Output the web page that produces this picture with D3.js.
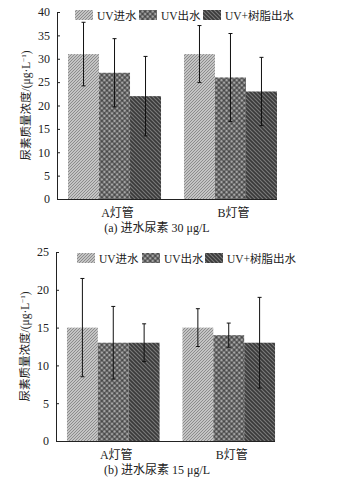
<!DOCTYPE html>
<html>
<head>
<meta charset="utf-8">
<script src="https://cdn.jsdelivr.net/npm/d3@7/dist/d3.min.js"></script>
<style>
  html, body { margin: 0; padding: 0; background: #fff; }
  svg { display: block; }
  text { font-family: "Liberation Serif", "Noto Sans CJK SC", serif; fill: #222; }
</style>
</head>
<body>
<svg id="chart" width="349" height="486"></svg>
<script>
// Lamp groups and water-sample series
const groups = ["A灯管", "B灯管"];
const series = ["UV进水", "UV出水", "UV+树脂出水"];

// Panel (a): influent urea 30 μg/L — means and error (±) per group, per series
const meansHigh = [[31, 27, 22], [31, 26, 23]];
const errorsHigh = [[6.8, 7.3, 8.5], [6.1, 9.4, 7.3]];
const ticksHigh = [0, 5, 10, 15, 20, 25, 30, 35, 40];

// Panel (b): influent urea 15 μg/L
const meansLow = [[15, 13, 13], [15, 14, 13]];
const errorsLow = [[6.5, 4.8, 2.5], [2.5, 1.6, 6.0]];
const ticksLow = [0, 5, 10, 15, 20, 25];

const captions = ["(a)  进水尿素 30 μg/L", "(b)  进水尿素 15 μg/L"];

const svg = d3.select("#chart");
const defs = svg.append("defs");

// Fill patterns for the three series
function hatch(id, bg, fg, size, dir, w) {
  const p = defs.append("pattern").attr("id", id).attr("patternUnits", "userSpaceOnUse")
    .attr("width", size).attr("height", size);
  p.append("rect").attr("width", size).attr("height", size).attr("fill", bg);
  const d = dir > 0
    ? `M0,${size} L${size},0 M${-size},${size} L${size},${-size} M0,${2*size} L${2*size},0`
    : `M0,0 L${size},${size} M${-size},0 L${size},${2*size} M0,${-size} L${2*size},${size}`;
  p.append("path").attr("d", d).attr("stroke", fg).attr("stroke-width", w);
}
hatch("pat0", "#c4c4c4", "#8c8c8c", 3, 1, 1);
hatch("pat2", "#3a3a3a", "#7a7a7a", 4, -1, 1.1);
{
  // diagonal checker for the middle series
  const p = defs.append("pattern").attr("id", "pat1").attr("patternUnits", "userSpaceOnUse")
    .attr("width", 3.6).attr("height", 3.6).attr("patternTransform", "rotate(45)");
  p.append("rect").attr("width", 3.6).attr("height", 3.6).attr("fill", "#6a6a6a");
  p.append("rect").attr("x", 0).attr("y", 0).attr("width", 1.8).attr("height", 1.8).attr("fill", "#a6a6a6");
  p.append("rect").attr("x", 1.8).attr("y", 1.8).attr("width", 1.8).attr("height", 1.8).attr("fill", "#4a4a4a");
}
const fills = ["url(#pat0)", "url(#pat1)", "url(#pat2)"];

function panel(cfg) {
  const g = svg.append("g");
  const x = d3.scaleBand(groups, [cfg.left, cfg.right]).paddingInner(0.198).paddingOuter(0.095);
  const xs = d3.scaleBand(series, [0, x.bandwidth()]);
  const y = d3.scaleLinear([0, cfg.max], [cfg.bottom, cfg.top]);

  // Bars
  groups.forEach((grp, gi) => {
    series.forEach((s, si) => {
      g.append("rect")
        .attr("x", x(grp) + xs(s)).attr("y", y(cfg.means[gi][si]))
        .attr("width", xs.bandwidth()).attr("height", y(0) - y(cfg.means[gi][si]))
        .attr("fill", fills[si]);
    });
  });

  // Error bars
  groups.forEach((grp, gi) => {
    series.forEach((s, si) => {
      const cx = x(grp) + xs(s) + xs.bandwidth() / 2;
      const m = cfg.means[gi][si], e = cfg.errors[gi][si];
      const eb = g.append("g").attr("stroke", "#111").attr("stroke-width", 1);
      eb.append("line").attr("x1", cx).attr("x2", cx).attr("y1", y(m + e)).attr("y2", y(m - e));
      eb.append("line").attr("x1", cx - 2).attr("x2", cx + 2).attr("y1", y(m + e)).attr("y2", y(m + e));
      eb.append("line").attr("x1", cx - 2).attr("x2", cx + 2).attr("y1", y(m - e)).attr("y2", y(m - e));
    });
  });

  // Y axis with inward ticks
  const yAxis = d3.axisLeft(y).tickValues(cfg.ticks).tickSize(-3).tickPadding(7).tickFormat(d3.format("d"));
  const ya = g.append("g").attr("transform", `translate(${cfg.left},0)`).call(yAxis);
  ya.select(".domain").attr("stroke", "#222");
  ya.selectAll(".tick line").attr("stroke", "#222");
  ya.selectAll(".tick text").attr("font-size", 12).attr("fill", "#222")
    .attr("font-family", "Liberation Serif, serif");

  // X axis baseline ending at the last bar
  const lastEnd = x(groups[groups.length - 1]) + x.bandwidth();
  const xAxis = d3.axisBottom(x).tickSize(0).tickPadding(9);
  const xa = g.append("g").attr("transform", `translate(0,${cfg.bottom})`).call(xAxis);
  xa.select(".domain").attr("d", `M${cfg.left},0.5H${lastEnd}`).attr("stroke", "#222");
  xa.selectAll(".tick text").attr("font-size", 12).attr("fill", "#222")
    .attr("font-family", "Liberation Serif, Noto Sans CJK SC, serif").attr("dx", 3);

  // Y axis title
  const yt = g.append("text")
    .attr("transform", `translate(${cfg.left - 27},${(cfg.top + cfg.bottom) / 2}) rotate(-90)`)
    .attr("text-anchor", "middle").attr("font-size", 11.5);
  yt.append("tspan").text("尿素质量浓度/(μg·L");
  yt.append("tspan").attr("font-size", 7).attr("dy", -4).text("−1");
  yt.append("tspan").attr("dy", 4).text(")");

  // Legend
  const lg = g.append("g");
  series.forEach((s, si) => {
    const lx = cfg.legendX[si];
    lg.append("rect").attr("x", lx).attr("y", cfg.legendY - 5).attr("width", 18).attr("height", 10)
      .attr("fill", fills[si]);
    lg.append("text").attr("x", lx + 22).attr("y", cfg.legendY + 4.5).attr("font-size", 11.5).text(s);
  });

  // Caption
  g.append("text").attr("x", cfg.captionX).attr("y", cfg.captionY)
    .attr("text-anchor", "middle").attr("font-size", 12).text(cfg.caption);
}

panel({
  left: 57, right: 288, top: 12, bottom: 199, max: 40,
  means: meansHigh, errors: errorsHigh, ticks: ticksHigh,
  legendX: [75, 139, 203], legendY: 15,
  caption: captions[0], captionX: 157, captionY: 232
});

panel({
  left: 56, right: 286, top: 252, bottom: 441, max: 25,
  means: meansLow, errors: errorsLow, ticks: ticksLow,
  legendX: [77, 142, 205], legendY: 258,
  caption: captions[1], captionX: 157, captionY: 474
});
</script>
</body>
</html>
